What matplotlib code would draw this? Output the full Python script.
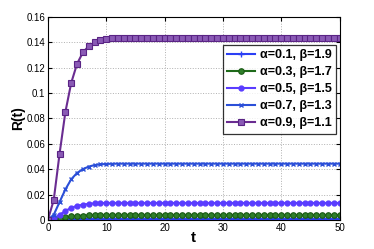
import matplotlib.pyplot as plt

t = list(range(51))

r_01 = [0, 0.0001, 0.0003, 0.0005, 0.0006, 0.0007, 0.00075, 0.0008] + [0.0008] * 43
r_03 = [0, 0.0003, 0.0011, 0.0020, 0.0027, 0.0031, 0.0034, 0.0035, 0.0036, 0.0037] + [0.0037] * 41
r_05 = [0, 0.0012, 0.0040, 0.0070, 0.0095, 0.0110, 0.0120, 0.0126, 0.0130, 0.0132] + [0.0133] * 41
r_07 = [0, 0.0040, 0.0140, 0.0240, 0.0320, 0.0370, 0.0400, 0.0420, 0.0432, 0.0438, 0.0441, 0.0442] + [0.0443] * 39
r_09 = [0, 0.0155, 0.0520, 0.0850, 0.1080, 0.1230, 0.1320, 0.1370, 0.1400, 0.1415, 0.1425, 0.1430,
        0.1433, 0.1435] + [0.1437] * 37

labels = ["α=0.1, β=1.9", "α=0.3, β=1.7", "α=0.5, β=1.5", "α=0.7, β=1.3", "α=0.9, β=1.1"]

plt.rcParams['font.family'] = ['Liberation Sans', 'DejaVu Sans']
fig = plt.figure(figsize=(3.74, 2.49), dpi=100)
ax = fig.add_axes([0.128, 0.117, 0.78, 0.815])

ax.plot(t, r_01, color="#2b3ff5", marker="+", ms=4, lw=1.5, mew=1, label=labels[0])
ax.plot(t, r_03, color="#1f6a1a", marker="o", ms=4, lw=1.5, mfc="#2f7f2a", mec="#1a5a14", mew=0.8, label=labels[1])
ax.plot(t, r_05, color="#5a3cff", marker="o", ms=3.5, lw=1.5, label=labels[2])
ax.plot(t, r_07, color="#2b4fd8", marker="x", ms=3, lw=1.5, mew=1, label=labels[3])
ax.plot(t, r_09, color="#6a2c91", marker="s", ms=4, lw=1.5, mfc="#8a5ab5", mec="#5a2485", mew=0.8, label=labels[4])

ax.set_xlim(0, 50)
ax.set_ylim(0, 0.16)
ax.set_xticks([0, 10, 20, 30, 40, 50])
ax.set_yticks([0, 0.02, 0.04, 0.06, 0.08, 0.1, 0.12, 0.14, 0.16])
ax.set_yticklabels(["0", "0.02", "0.04", "0.06", "0.08", "0.1", "0.12", "0.14", "0.16"])
ax.tick_params(direction="in", labelsize=7, length=3, top=True, right=True, pad=2)
ax.grid(True, linestyle=":", color="#b0b0b0", lw=0.7)
for s in ax.spines.values():
    s.set_linewidth(0.8)

ax.set_xlabel("t", fontsize=11, fontweight="bold", labelpad=-1)
ax.set_ylabel("R(t)", fontsize=10, fontweight="bold", labelpad=1)

leg = ax.legend(loc="upper right", bbox_to_anchor=(0.988, 0.862), fontsize=9, frameon=True, fancybox=False,
                edgecolor="black", handlelength=2.2, borderpad=0.35, labelspacing=0.4, handletextpad=0.4,
                borderaxespad=0)
leg.get_frame().set_linewidth(0.9)
for txt in leg.get_texts():
    txt.set_fontweight("bold")

fig.savefig("out.png", dpi=100)
